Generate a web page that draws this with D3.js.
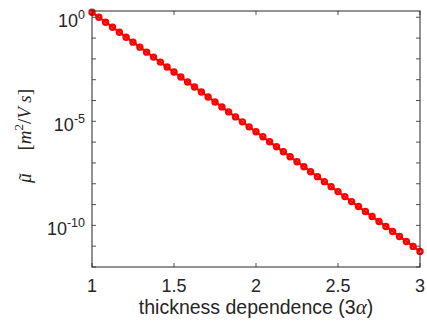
<!DOCTYPE html>
<html><head><meta charset="utf-8">
<script src="https://cdn.jsdelivr.net/npm/d3@7"></script>
<style>body{margin:0;background:#fff}svg{display:block}</style>
</head><body>
<script>
const xValues = [1.000,1.042,1.083,1.125,1.167,1.208,1.250,1.292,1.333,1.375,1.417,1.458,1.500,1.542,1.583,1.625,1.667,1.708,1.750,1.792,1.833,1.875,1.917,1.958,2.000,2.042,2.083,2.125,2.167,2.208,2.250,2.292,2.333,2.375,2.417,2.458,2.500,2.542,2.583,2.625,2.667,2.708,2.750,2.792,2.833,2.875,2.917,2.958,3.000];
const muValues = [1.74,1.00,0.577,0.332,0.192,0.110,0.0636,0.0367,0.0211,0.0122,0.00702,0.00405,0.00233,0.00134,7.74e-4,4.46e-4,2.57e-4,1.48e-4,8.53e-5,4.92e-5,2.83e-5,1.63e-5,9.41e-6,5.42e-6,3.13e-6,1.80e-6,1.04e-6,5.98e-7,3.45e-7,1.99e-7,1.14e-7,6.60e-8,3.80e-8,2.19e-8,1.26e-8,7.27e-9,4.19e-9,2.42e-9,1.39e-9,8.02e-10,4.62e-10,2.66e-10,1.54e-10,8.85e-11,5.10e-11,2.94e-11,1.69e-11,9.76e-12,5.62e-12];
const xTicks = [1,1.5,2,2.5,3];
const xTickLabels = ["1","1.5","2","2.5","3"];
const yTicks = [1e-12,1e-11,1e-10,1e-9,1e-8,1e-7,1e-6,1e-5,1e-4,1e-3,1e-2,1e-1,1];
const yLabelTicks = [1e-10,1e-5,1];
const yLabelExps = ["-10","-5","0"];

const W=427,H=327;
const m={l:92,r:7,t:11,b:60};
const svg=d3.select("body").append("svg").attr("width",W).attr("height",H);
const x=d3.scaleLinear().domain([1,3]).range([m.l,W-m.r]);
const y=d3.scaleLog().domain([1e-12,2]).range([H-m.b,m.t]);
const ink="#262626";
const font="'Liberation Sans', Arial, Helvetica, sans-serif";
const serif="'Liberation Serif', 'Times New Roman', serif";

// ticks (inside, mirrored)
const tl=4;
const ax=svg.append("g").attr("stroke",ink).attr("stroke-width",0.8);
xTicks.forEach(v=>{
  ax.append("line").attr("x1",x(v)).attr("x2",x(v)).attr("y1",y.range()[0]).attr("y2",y.range()[0]-tl);
  ax.append("line").attr("x1",x(v)).attr("x2",x(v)).attr("y1",y.range()[1]).attr("y2",y.range()[1]+tl);
});
yTicks.forEach(v=>{
  ax.append("line").attr("x1",m.l).attr("x2",m.l+tl).attr("y1",y(v)).attr("y2",y(v));
  ax.append("line").attr("x1",W-m.r).attr("x2",W-m.r-tl).attr("y1",y(v)).attr("y2",y(v));
});

// data
const line=d3.line().x((d,i)=>x(xValues[i])).y(d=>y(d));
svg.append("path").datum(muValues).attr("d",line).attr("fill","none").attr("stroke","#ff0000").attr("stroke-width",2.2);
svg.append("g").selectAll("circle").data(muValues).join("circle")
  .attr("cx",(d,i)=>x(xValues[i])).attr("cy",d=>y(d)).attr("r",2.5)
  .attr("fill","none").attr("stroke","#ff0000").attr("stroke-width",2.4);

// box
svg.append("rect").attr("x",m.l).attr("y",m.t).attr("width",W-m.r-m.l).attr("height",H-m.b-m.t)
  .attr("fill","none").attr("stroke",ink).attr("stroke-width",1);

// x tick labels
xTicks.forEach((v,i)=>{
  svg.append("text").attr("x",x(v)).attr("y",292).attr("text-anchor","middle")
    .attr("font-family",font).attr("font-size",18).attr("fill",ink).text(xTickLabels[i]);
});
// y tick labels
yLabelTicks.forEach((v,i)=>{
  const t=svg.append("text").attr("x",85).attr("y",y(v)+10).attr("text-anchor","end")
    .attr("font-family",font).attr("font-size",18).attr("fill",ink);
  t.append("tspan").text("10");
  t.append("tspan").attr("dy",-8).attr("font-size",12.5).text(yLabelExps[i]);
});
// x label
const xl=svg.append("text").attr("x",x(2)).attr("y",314).attr("text-anchor","middle")
  .attr("font-family",font).attr("font-size",19.5).attr("fill",ink);
xl.append("tspan").text("thickness dependence (3");
xl.append("tspan").attr("font-family",serif).attr("font-style","italic").attr("font-size",21).text("α");
xl.append("tspan").text(")");
// y label
const yg=svg.append("g").attr("transform","translate(31,136) rotate(-90)");
const yl=yg.append("text").attr("text-anchor","start")
  .attr("font-family",serif).attr("font-size",19).attr("fill",ink);
const muT=yl.append("tspan").attr("font-style","italic").text("μ");
yl.append("tspan").text("\u2003\u2009[");
yl.append("tspan").attr("font-style","italic").text("m");
yl.append("tspan").attr("dy",-8).attr("font-size",13).text("2");
yl.append("tspan").attr("dy",8).text("/");
yl.append("tspan").attr("font-style","italic").text("V s");
yl.append("tspan").text("]");
const totalW=yl.node().getComputedTextLength();
yl.attr("x",-totalW/2);
const muW=muT.node().getComputedTextLength();
yg.append("text").attr("x",-totalW/2+muW/2+1.5).attr("y",1).attr("text-anchor","middle")
  .attr("font-family",serif).attr("font-size",19).attr("fill",ink).text("\u02DC");
</script>
</body></html>
